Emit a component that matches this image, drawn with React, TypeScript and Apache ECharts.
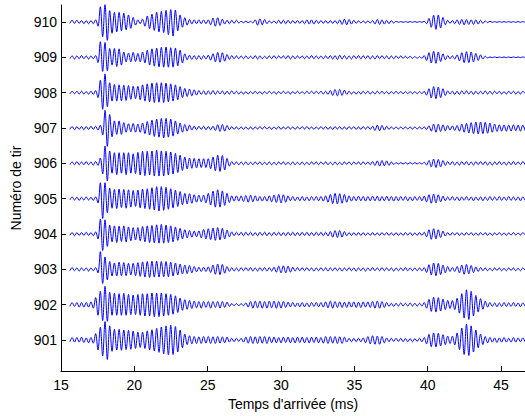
import React, { useEffect, useRef } from "react";
import * as echarts from "echarts";

// Shot numbers (one trace per shot), bottom to top
const shotNumbers = [901, 902, 903, 904, 905, 906, 907, 908, 909, 910];
// Sampling of the traces: extrema read every half period (0.16 ms) from 15.6 ms
const startMs = 15.6;
const stepMs = 0.16;
const xTicks = [15, 20, 25, 30, 35, 40, 45];
const xMin = 15;
const xMax = 46.63;
const yMin = 900.12;
const yMax = 910.48;

// Signed trace amplitudes (hundredths of the spacing between two shots)
const trace901 = [
  -5, 7, -6, 7, -6, 8, -7, 6, -8, 7, -9, 18, -28, 36, -45, 52, -55, 40, -32, 30, -28, 30, -29, 28, -27,
  27, -26, 25, -24, 22, -21, 22, -24, 26, -28, 29, -31, 33, -35, 37, -39, 40, -42, 42, -41, 38, -34, 28, -22, 17,
  -13, 12, -11, 10, -10, 9, -10, 10, -9, 10, -10, 9, -10, 10, -9, 9, -8, 8, -6, 5, -5, 5, -4, 5, -6,
  8, -9, 10, -10, 9, -10, 10, -9, 10, -10, 9, -8, 8, -8, 7, -8, 8, -7, 8, -8, 7, -8, 8, -7, 8,
  -8, 7, -8, 8, -7, 8, -8, 7, -9, 10, -10, 10, -9, 10, -10, 9, -10, 8, -6, 5, -5, 5, -5, 5, -5,
  6, -8, 10, -11, 12, -12, 11, -12, 10, -8, 6, -5, 5, -4, 5, -4, 5, -5, 4, -5, 4, -5, 4, -4, 5,
  -5, 7, -11, 16, -19, 20, -20, 19, -17, 15, -13, 11, -10, 11, -14, 20, -27, 34, -41, 45, -44, 40, -34, 28, -22,
  17, -13, 10, -8, 7, -6, 6, -7, 6, -6, 7, -6, 5, -6, 7, -6, 6, -5, 6, -6,
];
const trace902 = [
  -5, 6, -5, 6, -7, 6, -7, 6, -7, 8, -10, 20, -30, 38, -45, 52, -47, 35, -30, 32, -30, 31, -30, 32, -30,
  29, -28, 27, -28, 29, -30, 31, -32, 31, -32, 33, -34, 33, -34, 33, -32, 31, -30, 29, -27, 25, -22, 19, -16, 14,
  -13, 12, -11, 10, -9, 9, -10, 9, -8, 9, -10, 9, -8, 9, -10, 9, -8, 7, -5, 3, -3, 3, -3, 3, -3,
  5, -7, 9, -10, 10, -9, 10, -10, 9, -10, 10, -9, 10, -10, 9, -10, 9, -8, 7, -6, 6, -6, 5, -6, 6,
  -6, 5, -6, 6, -5, 6, -6, 6, -7, 8, -9, 10, -10, 9, -8, 8, -8, 7, -8, 8, -7, 8, -8, 7, -8,
  8, -7, 8, -8, 9, -10, 10, -10, 9, -8, 6, -5, 4, -5, 4, -4, 5, -4, 4, -4, 5, -4, 4, -4, 4,
  -4, 6, -10, 15, -19, 21, -21, 20, -18, 16, -14, 12, -11, 12, -14, 18, -24, 31, -38, 42, -42, 38, -32, 26, -21,
  17, -13, 10, -7, 6, -5, 5, -6, 5, -5, 6, -5, 5, -5, 6, -5, 5, -6, 5, -5,
];
const trace903 = [
  -4, 5, -4, 4, -5, 4, -4, 4, -5, 4, -4, 5, -10, 50, -40, 35, -30, 22, -19, 18, -19, 20, -18, 19, -18,
  17, -16, 17, -18, 19, -20, 21, -22, 22, -23, 23, -22, 23, -22, 22, -21, 22, -21, 20, -19, 18, -16, 15, -13, 12,
  -12, 11, -10, 8, -7, 6, -6, 6, -6, 7, -9, 12, -14, 15, -15, 14, -11, 8, -6, 5, -5, 4, -5, 5, -4,
  5, -4, 5, -5, 4, -5, 5, -4, 5, -5, 5, -5, 6, -8, 9, -10, 10, -10, 9, -8, 6, -5, 5, -4, 5,
  -4, 5, -4, 4, -5, 4, -4, 5, -4, 4, -5, 4, -4, 5, -4, 4, -5, 4, -4, 5, -4, 4, -5, 4, -4,
  4, -5, 4, -4, 5, -4, 4, -4, 5, -4, 4, -4, 4, -5, 4, -4, 4, -4, 5, -4, 4, -4, 4, -4, 4,
  -4, 5, -9, 13, -16, 18, -18, 17, -15, 12, -10, 8, -6, 5, -6, 8, -10, 12, -14, 14, -13, 11, -9, 7, -6,
  5, -4, 4, -4, 3, -4, 4, -3, 4, -4, 3, -4, 4, -3, 4, -4, 3, -4, 4, -3,
];
const trace904 = [
  -4, 4, -5, 4, -4, 4, -4, 5, -4, 4, -5, 6, -14, 42, -47, 40, -35, 25, -22, 23, -24, 22, -21, 23, -22,
  20, -19, 18, -17, 18, -19, 21, -22, 23, -24, 24, -25, 26, -26, 27, -26, 25, -24, 23, -22, 20, -18, 16, -14, 12,
  -11, 10, -9, 8, -8, 9, -11, 13, -14, 15, -16, 17, -18, 18, -17, 16, -14, 11, -8, 6, -5, 5, -4, 5, -5,
  5, -4, 5, -5, 4, -5, 5, -4, 5, -5, 4, -5, 5, -4, 5, -5, 4, -5, 5, -4, 5, -5, 4, -5, 5,
  -4, 5, -5, 4, -5, 5, -4, 5, -5, 5, -6, 7, -9, 10, -10, 10, -9, 7, -5, 4, -4, 4, -4, 4, -4,
  4, -4, 3, -4, 4, -4, 3, -4, 4, -3, 4, -4, 3, -4, 4, -4, 3, -4, 4, -3, 4, -4, 3, -4, 4,
  -4, 5, -8, 12, -15, 15, -14, 12, -10, 8, -6, 4, -4, 4, -3, 4, -4, 3, -4, 4, -3, 4, -4, 3, -4,
  4, -3, 4, -4, 3, -4, 3, -3, 4, -3, 3, -4, 3, -3, 4, -3, 3, -3, 4, -3,
];
const trace905 = [
  -4, 5, -4, 4, -5, 4, -4, 5, -4, 4, -5, 5, -12, 45, -56, 45, -40, 30, -27, 26, -28, 27, -25, 26, -27,
  25, -24, 23, -22, 24, -26, 27, -28, 28, -30, 31, -32, 34, -35, 34, -33, 32, -30, 28, -26, 24, -22, 20, -17, 15,
  -15, 14, -13, 11, -10, 10, -9, 10, -12, 15, -18, 21, -24, 25, -24, 22, -19, 15, -11, 8, -7, 8, -7, 8, -8,
  9, -10, 10, -9, 8, -7, 6, -7, 6, -7, 8, -9, 10, -11, 12, -12, 11, -10, 8, -6, 6, -6, 5, -6, 6,
  -6, 5, -6, 6, -5, 6, -6, 6, -7, 8, -10, 12, -14, 15, -15, 14, -13, 12, -10, 8, -7, 6, -6, 7, -6,
  6, -7, 6, -6, 7, -6, 7, -7, 6, -6, 7, -6, 6, -7, 6, -6, 6, -5, 6, -6, 5, -6, 6, -5, 6,
  -6, 7, -9, 11, -13, 13, -12, 11, -9, 7, -6, 5, -5, 6, -5, 5, -6, 5, -5, 6, -5, 5, -6, 5, -5,
  5, -6, 5, -5, 6, -5, 5, -5, 6, -5, 5, -5, 6, -5, 5, -5, 5, -6, 5, -5,
];
const trace906 = [
  -4, 4, -4, 5, -4, 4, -4, 5, -4, 4, -5, 5, -6, 15, -30, 49, -50, 35, -28, 30, -32, 30, -28, 30, -32,
  30, -28, 27, -29, 31, -33, 34, -35, 34, -33, 35, -36, 37, -36, 35, -36, 34, -33, 32, -30, 28, -26, 23, -20, 18,
  -16, 15, -14, 14, -13, 13, -12, 13, -12, 13, -15, 18, -21, 23, -23, 22, -19, 14, -8, 5, -4, 4, -4, 4, -4,
  4, -4, 3, -4, 4, -3, 4, -4, 3, -4, 4, -4, 3, -4, 4, -3, 4, -4, 3, -4, 4, -4, 3, -4, 4,
  -4, 3, -4, 4, -3, 4, -4, 4, -3, 4, -4, 3, -4, 4, -4, 3, -4, 4, -3, 4, -4, 4, -3, 4, -4,
  4, -3, 4, -4, 5, -6, 7, -8, 8, -7, 7, -6, 4, -3, 2, -2, 2, -2, 2, -2, 2, -2, 2, -2, 2,
  -2, 3, -5, 8, -10, 12, -12, 11, -10, 8, -6, 5, -4, 5, -5, 4, -5, 5, -4, 5, -5, 4, -5, 5, -4,
  5, -4, 5, -5, 4, -5, 4, -4, 5, -4, 4, -5, 4, -4, 5, -4, 4, -4, 5, -4,
];
const trace907 = [
  -4, 4, -5, 4, -4, 4, -5, 4, -4, 5, -4, 5, -6, 8, -20, 50, -52, 38, -25, 20, -18, 20, -18, 15, -12,
  12, -11, 13, -12, 11, -12, 14, -16, 18, -20, 22, -24, 25, -26, 27, -28, 27, -26, 25, -23, 20, -17, 14, -12, 10,
  -9, 8, -6, 5, -5, 5, -4, 5, -5, 4, -5, 5, -7, 9, -10, 10, -9, 7, -5, 4, -4, 3, -4, 3, -4,
  3, -4, 3, -4, 3, -3, 4, -3, 4, -3, 3, -4, 3, -3, 4, -4, 3, -3, 4, -3, 3, -4, 3, -3, 4,
  -3, 4, -3, 3, -4, 3, -3, 4, -3, 4, -4, 3, -4, 4, -3, 4, -4, 3, -4, 4, -3, 4, -4, 3, -4,
  4, -3, 4, -4, 5, -7, 8, -8, 7, -6, 5, -4, 3, -3, 3, -3, 3, -3, 3, -3, 3, -3, 3, -3, 3,
  -3, 3, -4, 6, -9, 11, -12, 11, -10, 9, -8, 7, -6, 6, -7, 7, -9, 11, -12, 13, -14, 15, -16, 17, -17,
  17, -16, 16, -15, 14, -12, 11, -10, 9, -9, 9, -9, 8, -9, 9, -8, 8, -9, 8, -8,
];
const trace908 = [
  -4, 4, -3, 4, -4, 4, -4, 3, -4, 4, -5, 6, -14, 35, -47, 53, -40, 28, -24, 23, -24, 22, -23, 21, -22,
  20, -19, 18, -17, 18, -20, 22, -24, 25, -26, 27, -28, 28, -27, 28, -28, 27, -26, 25, -24, 22, -20, 17, -14, 12,
  -11, 10, -9, 8, -7, 6, -5, 5, -6, 5, -5, 6, -5, 5, -4, 5, -5, 4, -4, 5, -4, 4, -4, 3, -4,
  3, -4, 3, -3, 4, -3, 3, -4, 3, -3, 4, -3, 3, -4, 3, -3, 4, -3, 3, -4, 3, -3, 4, -3, 3,
  -3, 4, -3, 4, -3, 4, -3, 4, -4, 4, -5, 6, -8, 9, -9, 9, -8, 7, -5, 4, -4, 3, -4, 3, -4,
  4, -3, 4, -4, 3, -4, 4, -3, 4, -3, 3, -4, 3, -3, 4, -3, 3, -3, 3, -3, 3, -3, 3, -3, 3,
  -3, 4, -7, 11, -15, 17, -17, 16, -14, 11, -8, 5, -4, 4, -5, 4, -5, 5, -4, 5, -4, 4, -5, 4, -4,
  4, -4, 5, -4, 4, -4, 4, -3, 4, -4, 3, -4, 4, -3, 4, -4, 3, -4, 4, -3,
];
const trace909 = [
  -4, 4, -5, 4, -4, 5, -4, 4, -5, 4, -4, 5, -15, 44, -40, 42, -38, 25, -22, 25, -26, 24, -22, 15, -13,
  12, -13, 14, -12, 11, -13, 15, -16, 20, -22, 24, -25, 26, -27, 28, -28, 29, -28, 27, -28, 26, -24, 20, -16, 10,
  -7, 6, -6, 5, -6, 5, -6, 5, -5, 6, -8, 10, -13, 14, -14, 13, -11, 8, -6, 5, -4, 4, -4, 4, -4,
  4, -4, 3, -4, 5, -5, 4, -4, 3, -4, 4, -4, 5, -4, 4, -3, 4, -4, 5, -5, 4, -4, 4, -3, 4,
  -4, 4, -4, 5, -4, 4, -4, 4, -4, 4, -4, 5, -5, 5, -6, 6, -5, 5, -5, 4, -5, 5, -4, 5, -5,
  5, -4, 5, -5, 4, -5, 5, -4, 5, -4, 4, -5, 4, -4, 4, -3, 4, -3, 3, -3, 3, -3, 2, -3, 2,
  -3, 5, -9, 13, -16, 17, -17, 15, -12, 10, -7, 5, -4, 4, -5, 7, -10, 13, -15, 16, -15, 15, -13, 11, -9,
  7, -5, 3, -2, 1, -1, 1, -1, 1, -1, 1, -1, 1, -1, 1, -1, 1, -1, 1, -1,
];
const trace910 = [
  -4, 5, -4, 5, -4, 4, -5, 4, -5, 4, -5, 6, -12, 43, -42, 50, -52, 32, -32, 27, -28, 27, -25, 25, -22,
  20, -18, 13, -9, 6, -5, 8, -12, 17, -19, 22, -24, 27, -28, 30, -30, 33, -36, 35, -40, 34, -25, 20, -15, 12,
  -9, 7, -6, 6, -5, 6, -5, 6, -5, 6, -8, 11, -12, 12, -10, 8, -6, 5, -5, 5, -4, 5, -3, 2, -2,
  2, -2, 2, -3, 6, -9, 9, -8, 7, -5, 3, -3, 3, -4, 5, -5, 5, -5, 5, -4, 4, -4, 4, -4, 4,
  -5, 6, -6, 6, -6, 5, -4, 4, -4, 4, -4, 4, -4, 4, -5, 6, -7, 8, -8, 7, -6, 5, -4, 3, -3,
  3, -3, 3, -3, 4, -6, 7, -7, 6, -6, 5, -5, 4, -3, 2, -1, 1, -1, 1, -1, 1, -1, 1, -1, 1,
  -1, 2, -5, 10, -15, 19, -21, 20, -17, 13, -8, 5, -4, 4, -5, 6, -7, 7, -8, 7, -7, 6, -7, 6, -6,
  5, -4, 3, -2, 2, -1, 1, -1, 1, -1, 1, -1, 1, -1, 1, -1, 1, -1, 1, -1,
];

const traces = [trace901, trace902, trace903, trace904, trace905, trace906, trace907, trace908, trace909, trace910];

const xTitle = "Temps d'arrivée (ms)";
const yTitle = "Numéro de tir";
const fontFamily = "'Liberation Sans', Arial, Helvetica, sans-serif";

function buildSeriesData(shot: number, values: number[]) {
  return values.map((v, i) => [startMs + i * stepMs, shot + v / 100]);
}

export default function App() {
  const ref = useRef<HTMLDivElement>(null);

  useEffect(() => {
    if (!ref.current) return;
    const chart = echarts.init(ref.current, undefined, { renderer: "svg" });
    const axisColor = "#000000";
    chart.setOption({
      animation: false,
      backgroundColor: "#ffffff",
      textStyle: { fontFamily },
      grid: { left: 61, right: 0, top: 5, bottom: 43, containLabel: false },
      xAxis: {
        type: "value",
        min: xMin,
        max: xMax,
        axisLine: { show: true, lineStyle: { color: axisColor, width: 1 } },
        axisTick: { show: true, inside: true, length: 5, customValues: xTicks, lineStyle: { color: axisColor } },
        axisLabel: { customValues: xTicks, color: "#000", fontSize: 14, fontFamily, margin: 7 },
        splitLine: { show: false },
        name: xTitle,
        nameLocation: "middle",
        nameGap: 23,
        nameTextStyle: { color: "#000", fontSize: 14, fontFamily },
      },
      yAxis: {
        type: "value",
        min: yMin,
        max: yMax,
        axisLine: { show: true, lineStyle: { color: axisColor, width: 1 } },
        axisTick: { show: true, inside: true, length: 5, customValues: shotNumbers, lineStyle: { color: axisColor } },
        axisLabel: { customValues: shotNumbers, color: "#000", fontSize: 14, fontFamily, margin: 4 },
        splitLine: { show: false },
        name: yTitle,
        nameLocation: "middle",
        nameGap: 36,
        nameRotate: 90,
        nameTextStyle: { color: "#000", fontSize: 14, fontFamily },
      },
      series: traces.map((vals, i) => ({
        type: "line",
        name: String(shotNumbers[i]),
        data: buildSeriesData(shotNumbers[i], vals),
        showSymbol: false,
        symbol: "none",
        smooth: 0.35,
        silent: true,
        clip: true,
        lineStyle: { color: "#0000ff", width: 1 },
        itemStyle: { color: "#0000ff" },
      })),
    });
    return () => chart.dispose();
  }, []);

  return (
    <div
      ref={ref}
      style={{ position: "fixed", left: 0, top: 0, width: 525, height: 416, background: "#fff" }}
    />
  );
}
